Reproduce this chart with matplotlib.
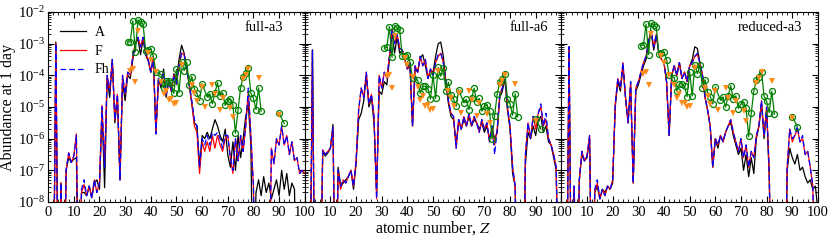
import numpy as np
import matplotlib
matplotlib.use("Agg")
import matplotlib.pyplot as plt
from matplotlib.ticker import MultipleLocator, LogLocator, NullFormatter, FixedLocator, FixedFormatter

plt.rcParams['font.family'] = ['Liberation Serif', 'DejaVu Serif']
plt.rcParams['mathtext.fontset'] = 'stix'
plt.rcParams['font.size'] = 10.5

# %% data: log10 abundance at 1 day vs atomic number (Z = 0..100)
# values below the plotted range are stored as -12
Z = np.arange(101)

# full-a3
a3_A = [-12, -12, -12, -2.95, -12, -7.4, -12, -7.0, -6.6, -6.75,
        -6.65, -6.6, -12, -7.7, -7.7, -7.8, -7.5, -7.85, -7.4, -7.3,
        -7.6, -5.1, -7.55, -4.1, -4.7, -3.5, -5.5, -4.7, -7.3, -4.2,
        -4.8, -4.0, -4.1, -3.5, -3.0, -2.85, -3.35, -2.85, -3.35, -3.55,
        -3.9, -3.5, -5.8, -4.1, -4.4, -3.8, -4.7, -4.1, -4.5, -3.95,
        -4.2, -3.5, -3.05, -3.3, -3.8, -4.3, -4.9, -5.5, -5.6, -6.9,
        -5.9, -6.0, -5.8, -6.0, -5.7, -5.4, -5.6, -5.9, -6.1, -5.7,
        -6.5, -6.9, -6.1, -7.0, -5.9, -6.6, -6.0, -5.3, -4.9, -6.2,
        -12, -7.7, -7.3, -7.8, -7.2, -7.7, -7.4, -7.9, -7.6, -7.3,
        -7.8, -7.0, -7.6, -7.1, -7.8, -7.4, -7.6, -12, -12, -12, -12]
a3_F = [-12, -12, -12, -3.0, -12, -7.4, -12, -7.0, -6.45, -6.75,
        -6.55, -5.85, -12, -7.7, -7.45, -7.8, -7.5, -7.85, -7.3, -7.7,
        -7.4, -4.95, -6.8, -4.0, -4.5, -3.5, -5.4, -4.6, -7.3, -4.0,
        -4.6, -3.9, -4.0, -3.4, -3.0, -2.8, -3.1, -2.8, -3.3, -3.5,
        -3.9, -3.4, -5.85, -4.1, -4.3, -3.9, -4.6, -4.2, -4.5, -4.0,
        -4.3, -3.7, -3.3, -3.35, -3.8, -4.3, -4.9, -5.6, -5.8, -7.1,
        -6.1, -6.4, -6.1, -6.4, -5.9, -6.3, -5.9, -6.2, -6.4, -6.0,
        -5.9, -6.6, -7.1, -6.0, -6.7, -5.9, -6.4, -5.6, -4.5, -5.9,
        -7.5, -12, -12, -12, -12, -12, -12, -6.3, -6.8, -6.0,
        -6.2, -5.6, -6.2, -5.9, -6.5, -6.1, -6.7, -6.6, -7.1, -7.0, -7.1]
a3_Fh = [-12, -12, -12, -3.0, -12, -7.4, -12, -7.0, -6.45, -6.75,
         -6.55, -5.9, -12, -7.6, -7.3, -7.8, -7.5, -7.9, -7.3, -7.7,
         -7.4, -5.0, -6.9, -4.0, -4.5, -3.5, -5.4, -4.6, -7.3, -4.0,
         -4.6, -3.9, -4.0, -3.4, -3.0, -2.8, -3.1, -2.8, -3.3, -3.5,
         -3.9, -3.4, -5.85, -4.1, -4.3, -3.9, -4.6, -4.2, -4.5, -4.0,
         -4.3, -3.7, -3.3, -3.35, -3.8, -4.3, -4.8, -5.4, -5.6, -6.9,
         -6.0, -6.2, -5.9, -6.2, -5.8, -5.9, -5.8, -6.0, -6.3, -5.9,
         -5.9, -6.6, -7.0, -6.0, -6.7, -5.9, -6.4, -5.6, -4.4, -5.9,
         -7.5, -12, -12, -12, -12, -12, -12, -6.3, -6.8, -6.0,
         -6.2, -5.6, -6.2, -5.9, -6.5, -6.1, -6.7, -6.6, -7.1, -7.0, -7.1]

# full-a6
a6_A = [-12, -12, -12, -3.2, -12, -12, -12, -6.4, -6.55, -6.45,
        -6.3, -5.55, -12, -6.9, -7.5, -7.4, -7.3, -7.2, -7.0, -7.6,
        -6.8, -5.4, -5.2, -4.8, -4.0, -5.0, -4.7, -5.5, -7.7, -4.5,
        -4.6, -4.2, -4.3, -3.5, -2.6, -3.3, -2.8, -3.3, -3.2, -3.5,
        -3.8, -3.7, -5.6, -3.8, -3.9, -3.45, -3.35, -3.7, -4.1, -3.85,
        -3.9, -3.4, -3.0, -2.95, -3.4, -4.2, -4.9, -5.3, -5.4, -6.2,
        -5.4, -5.7, -5.4, -5.6, -5.3, -5.6, -5.4, -5.5, -5.7, -5.5,
        -5.8, -5.6, -6.0, -5.7, -6.0, -5.8, -4.7, -4.5, -4.1, -5.1,
        -5.7, -7.1, -7.5, -12, -12, -12, -6.8, -5.8, -6.0, -5.6,
        -5.9, -5.4, -5.3, -5.8, -5.6, -6.1, -6.2, -6.6, -7.0, -12, -12]
a6_F = [-12, -12, -12, -3.2, -12, -12, -12, -6.35, -6.5, -6.4,
        -6.3, -5.65, -12, -7.0, -7.6, -7.3, -7.4, -7.2, -7.0, -7.5,
        -6.7, -5.1, -4.4, -4.7, -3.9, -4.9, -4.6, -5.3, -7.9, -4.0,
        -4.4, -3.9, -4.1, -3.4, -2.55, -3.0, -2.7, -3.15, -3.2, -3.5,
        -3.8, -3.6, -5.6, -3.7, -3.9, -3.4, -3.7, -3.5, -4.1, -3.8,
        -4.0, -3.6, -3.4, -3.3, -3.6, -4.2, -4.8, -5.2, -5.3, -6.3,
        -5.4, -5.7, -5.3, -5.6, -5.2, -5.6, -5.3, -5.5, -5.8, -5.4,
        -5.7, -5.5, -6.1, -5.6, -6.2, -5.7, -4.6, -4.4, -4.0, -5.0,
        -5.6, -6.9, -7.5, -12, -12, -12, -6.5, -5.5, -6.0, -5.3,
        -5.7, -5.2, -5.0, -5.6, -5.4, -6.0, -6.2, -6.5, -6.9, -12, -12]
a6_Fh = [-12, -12, -12, -3.2, -12, -12, -12, -6.35, -6.5, -6.4,
         -6.3, -5.65, -12, -7.0, -7.5, -7.3, -7.4, -7.2, -7.0, -7.5,
         -6.7, -5.1, -4.4, -4.7, -3.9, -4.9, -4.6, -5.3, -7.9, -4.0,
         -4.4, -3.9, -4.1, -3.4, -2.55, -3.0, -2.7, -3.15, -3.2, -3.5,
         -3.8, -3.6, -5.6, -3.7, -3.9, -3.4, -3.7, -3.5, -4.1, -3.8,
         -4.0, -3.6, -3.35, -3.3, -3.6, -4.2, -4.8, -5.2, -5.3, -6.3,
         -5.4, -5.7, -5.3, -5.6, -5.2, -5.6, -5.3, -5.5, -5.8, -5.4,
         -5.7, -5.5, -6.1, -5.6, -6.5, -5.7, -4.6, -4.4, -4.0, -5.0,
         -5.6, -6.9, -7.5, -12, -12, -12, -6.5, -5.5, -6.0, -5.3,
         -5.5, -5.2, -4.9, -5.6, -5.2, -6.0, -6.2, -6.5, -6.9, -12, -12]

# reduced-a3
r3_A = [-12, -12, -12, -3.1, -12, -7.5, -12, -7.3, -6.5, -6.7,
        -6.6, -6.0, -12, -7.7, -7.5, -7.9, -7.6, -7.7, -7.5, -7.6,
        -7.4, -5.0, -4.2, -4.5, -3.7, -4.7, -5.5, -4.3, -7.4, -4.5,
        -4.3, -4.0, -3.7, -3.5, -2.95, -2.65, -3.2, -2.75, -3.3, -3.5,
        -3.6, -4.2, -5.9, -4.0, -3.7, -4.0, -3.6, -4.1, -3.9, -4.2,
        -3.7, -3.5, -3.1, -3.15, -3.6, -4.0, -4.7, -5.1, -5.6, -6.9,
        -6.0, -6.3, -5.9, -6.1, -5.8, -5.6, -5.5, -5.9, -6.2, -6.5,
        -6.3, -7.0, -6.5, -7.2, -6.6, -7.1, -6.0, -5.6, -4.9, -6.0,
        -5.1, -7.2, -12, -12, -12, -12, -12, -12, -7.0, -6.3,
        -6.6, -6.8, -6.5, -7.0, -6.9, -7.2, -7.4, -7.3, -7.6, -7.5, -8.3]
r3_F = [-12, -12, -12, -3.1, -12, -7.5, -12, -7.3, -6.4, -6.7,
        -6.55, -5.9, -12, -7.7, -7.4, -7.9, -7.6, -7.8, -7.5, -7.6,
        -7.3, -4.9, -4.1, -4.4, -3.6, -4.7, -5.5, -4.2, -7.4, -4.4,
        -4.2, -3.9, -3.6, -3.4, -2.9, -2.6, -3.1, -2.7, -3.3, -3.5,
        -3.6, -4.2, -5.9, -4.0, -3.7, -4.0, -3.6, -4.1, -3.9, -4.2,
        -3.7, -3.6, -3.4, -3.35, -3.6, -4.0, -4.7, -5.1, -5.6, -6.9,
        -6.0, -6.2, -5.9, -6.1, -5.8, -5.6, -5.4, -5.8, -6.1, -6.4,
        -6.0, -6.6, -6.2, -6.9, -6.4, -6.6, -5.9, -5.6, -4.8, -5.9,
        -5.0, -7.0, -12, -12, -12, -12, -12, -12, -6.9, -5.7,
        -6.1, -5.9, -5.7, -6.1, -6.0, -6.5, -6.4, -6.9, -7.5, -12, -12]
r3_Fh = [-12, -12, -12, -3.1, -12, -7.5, -12, -7.3, -6.4, -6.7,
         -6.55, -5.9, -12, -7.6, -7.3, -7.9, -7.6, -7.8, -7.5, -7.6,
         -7.3, -4.9, -4.1, -4.4, -3.6, -4.7, -5.5, -4.2, -7.4, -4.4,
         -4.2, -3.9, -3.6, -3.4, -2.9, -2.6, -3.1, -2.7, -3.3, -3.5,
         -3.6, -4.2, -5.9, -4.0, -3.7, -4.0, -3.6, -4.1, -3.9, -4.2,
         -3.7, -3.6, -3.4, -3.3, -3.6, -4.0, -4.7, -5.1, -5.6, -6.9,
         -6.0, -6.2, -5.9, -6.1, -5.8, -5.6, -5.4, -5.8, -6.1, -6.4,
         -6.0, -6.6, -6.2, -6.9, -6.4, -6.6, -5.9, -5.6, -4.8, -5.9,
         -5.0, -7.0, -12, -12, -12, -12, -12, -12, -6.9, -5.7,
         -6.0, -5.9, -5.6, -6.1, -5.9, -6.5, -6.4, -6.9, -7.5, -12, -12]

# observed pattern (green circles) and second data set (orange triangles),
# log10 values as drawn in the full-a3 panel
obs_Z = [31, 32, 33, 34, 35, 36, 37, 38, 39, 40, 41, 42,
         44, 45, 46, 47, 48, 49, 50, 51, 52, 53, 54, 55, 56, 57, 58, 59, 60,
         62, 63, 64, 65, 66, 67, 68, 69, 70, 71, 72, 73, 74, 75, 76, 77, 78,
         79, 80, 81, 82, 83, 90, 92]
obs_log = [-2.96, -2.94, -2.28, -3.25, -2.25, -2.32, -2.38, -3.22, -3.20, -3.17, -3.40, -3.90,
           -3.97, -4.39, -4.17, -4.17, -4.25, -4.57, -3.81, -4.55, -3.57, -3.85, -3.58, -4.30,
           -4.04, -4.43, -4.57, -4.80, -4.27,
           -4.69, -4.58, -4.90, -4.55, -4.23, -4.65, -4.55, -4.95, -4.80, -4.75, -4.94, -5.83,
           -5.09, -4.40, -4.04, -3.94, -3.78, -4.56, -4.72, -5.08, -4.40, -5.13, -5.20, -5.52]
lim_Z = [32, 33, 34, 35, 39, 40, 42, 44, 45, 46, 47, 48, 49, 50, 52, 56, 57, 58, 60, 61,
         64, 65, 67, 68, 71, 72, 76, 77, 78, 82, 90]
lim_log = [-3.85, -3.81, -4.22, -2.59, -3.28, -3.50, -3.88, -4.20, -4.60, -4.48,
           -4.78, -4.76, -4.90, -4.88, -3.67, -4.30, -4.55, -4.80, -4.38, -5.01,
           -4.30, -4.60, -5.09, -4.70, -5.04, -5.33, -4.13, -3.99, -3.81, -4.09, -5.25]

# normalisation of the observed patterns in each panel (dex)
obs_norm = [0.0, -0.18, -0.10]
panel_names = ['full-a3', 'full-a6', 'reduced-a3']
name_x = [0.915, 0.95, 0.94]
models = [(a3_A, a3_F, a3_Fh), (a6_A, a6_F, a6_Fh), (r3_A, r3_F, r3_Fh)]

# %% figure
fig, axes = plt.subplots(1, 3, figsize=(8.30, 2.42), dpi=100, sharey=True)
fig.subplots_adjust(left=0.058, right=0.9855, top=0.9504, bottom=0.1653, wspace=0)

obs_Z = np.array(obs_Z); obs_log = np.array(obs_log)
lim_Z = np.array(lim_Z); lim_log = np.array(lim_log)

for k, ax in enumerate(axes):
    A, F, Fh = models[k]
    ax.plot(Z, 10**np.array(A), color='black', lw=0.9, label='A')
    ax.plot(Z, 10**np.array(F), color='red', lw=0.9, label='F')
    ax.plot(Z, 10**np.array(Fh), color='blue', lw=0.9, dashes=(4.5, 2.5), label='Fh')

    v = 10**(obs_log + obs_norm[k])
    m1 = obs_Z <= 83
    m2 = obs_Z >= 90
    for m in (m1, m2):
        ax.plot(obs_Z[m], v[m], '-o', color='green', lw=0.9, ms=4.3,
                mfc='none', mew=0.9)
    ax.plot(lim_Z, 10**(lim_log + obs_norm[k]), 'v', color='#ff8c1a',
            ms=4.5, mew=0, ls='none')

    ax.set_yscale('log')
    ax.set_ylim(1e-8, 1e-2)
    ax.set_xlim(0, 100)
    ax.xaxis.set_major_locator(FixedLocator(range(0, 101, 10)))
    if k == 0:
        ax.xaxis.set_major_formatter(FixedFormatter([str(t) for t in range(0, 101, 10)]))
    else:
        ax.xaxis.set_major_formatter(FixedFormatter([''] + [str(t) for t in range(10, 101, 10)]))
    ax.xaxis.set_minor_locator(MultipleLocator(2))
    ax.yaxis.set_major_locator(LogLocator(base=10, numticks=10))
    ax.yaxis.set_minor_locator(LogLocator(base=10, subs=np.arange(2, 10), numticks=20))
    ax.yaxis.set_minor_formatter(NullFormatter())
    ax.tick_params(which='both', direction='in', top=True, right=True, labelsize=10.5)
    ax.tick_params(which='major', length=4, width=0.8)
    ax.tick_params(which='minor', length=2, width=0.6)
    ax.tick_params(axis='x', pad=3)
    ax.tick_params(axis='y', pad=2)
    ax.text(name_x[k], 0.92, panel_names[k], transform=ax.transAxes,
            ha='right', va='center', fontsize=10.5)

axes[0].set_ylabel('Abundance at 1 day', fontsize=11.5, labelpad=1)
axes[0].legend(loc='upper left', bbox_to_anchor=(0.045, 0.925), frameon=False,
               handlelength=1.9, handletextpad=0.6, labelspacing=0.4,
               borderpad=0, borderaxespad=0, fontsize=10)
fig.text(0.522, 0.02, 'atomic number, $Z$', ha='center', va='bottom', fontsize=11.5)

plt.savefig('out.png', dpi=100)
